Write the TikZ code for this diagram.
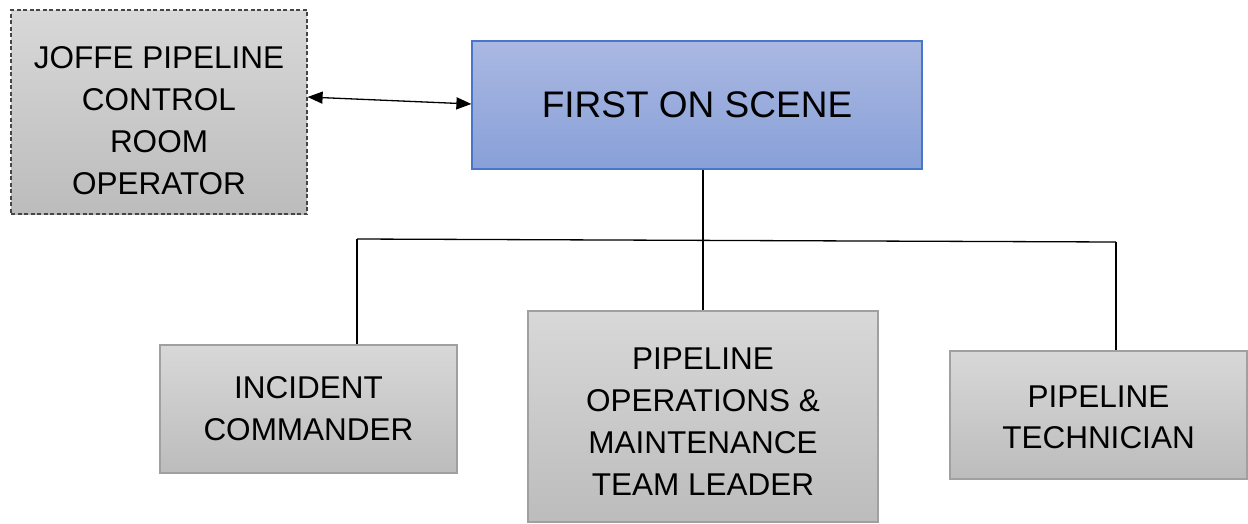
\documentclass[tikz,border=0pt]{standalone}
\usepackage{fontspec}
\setmainfont{Liberation Sans}
\usetikzlibrary{arrows.meta}
\definecolor{graytop}{RGB}{216,216,216}
\definecolor{graybot}{RGB}{188,188,188}
\definecolor{grayedge}{RGB}{160,160,160}
\definecolor{dashedge}{RGB}{70,70,70}
\definecolor{bluetop}{RGB}{170,184,226}
\definecolor{bluebot}{RGB}{136,160,216}
\definecolor{blueedge}{RGB}{72,118,200}
\tikzset{
  graybox/.style={draw=grayedge, line width=1.2pt, top color=graytop, bottom color=graybot,
    inner sep=0pt, align=center, font=\fontsize{31.5}{42}\selectfont},
  dashbox/.style={graybox, draw=dashedge, dash pattern=on 4pt off 2.5pt},
  bluebox/.style={draw=blueedge, line width=1.2pt, top color=bluetop, bottom color=bluebot,
    inner sep=0pt, align=center, font=\fontsize{37}{42}\selectfont},
  conn/.style={draw=black, line width=1.3pt},
  biarrow/.style={conn, {Triangle[length=15pt,width=12pt]}-{Triangle[length=15pt,width=12pt]}}
}
\begin{document}
\begin{tikzpicture}[x=1pt,y=-1pt]
\useasboundingbox (0,0) rectangle (1248,523);
\node[dashbox, minimum width=296pt, minimum height=204pt] (joffe) at (159,112)
  {\rule{0pt}{39pt}JOFFE PIPELINE\\CONTROL\\ROOM\\OPERATOR};
\node[bluebox, minimum width=450pt, minimum height=128pt] (first) at (697,105)
  {FIRST ON SCENE};
\node[graybox, minimum width=297pt, minimum height=128pt] (inc) at (308.5,409)
  {INCIDENT\\COMMANDER};
\node[graybox, minimum width=350pt, minimum height=211pt] (pipe) at (703,416.5)
  {\rule{0pt}{31pt}PIPELINE\\OPERATIONS \&\\MAINTENANCE\\TEAM LEADER};
\node[graybox, minimum width=297pt, minimum height=128pt, font=\fontsize{31.5}{41}\selectfont] (tech) at (1098.5,415)
  {\rule{0pt}{27pt}PIPELINE\\TECHNICIAN};
\coordinate (hl) at (357,239);
\coordinate (hr) at (1116,242);
\draw[biarrow] (joffe.east |- 0,97) -- (first.west |- 0,104);
\draw[conn] (pipe.north |- first.south) -- (pipe.north);
\draw[conn] (hl) -- (hr);
\draw[conn] (hl) -- (hl |- inc.north);
\draw[conn] (hr) -- (hr |- tech.north);
\end{tikzpicture}
\end{document}
